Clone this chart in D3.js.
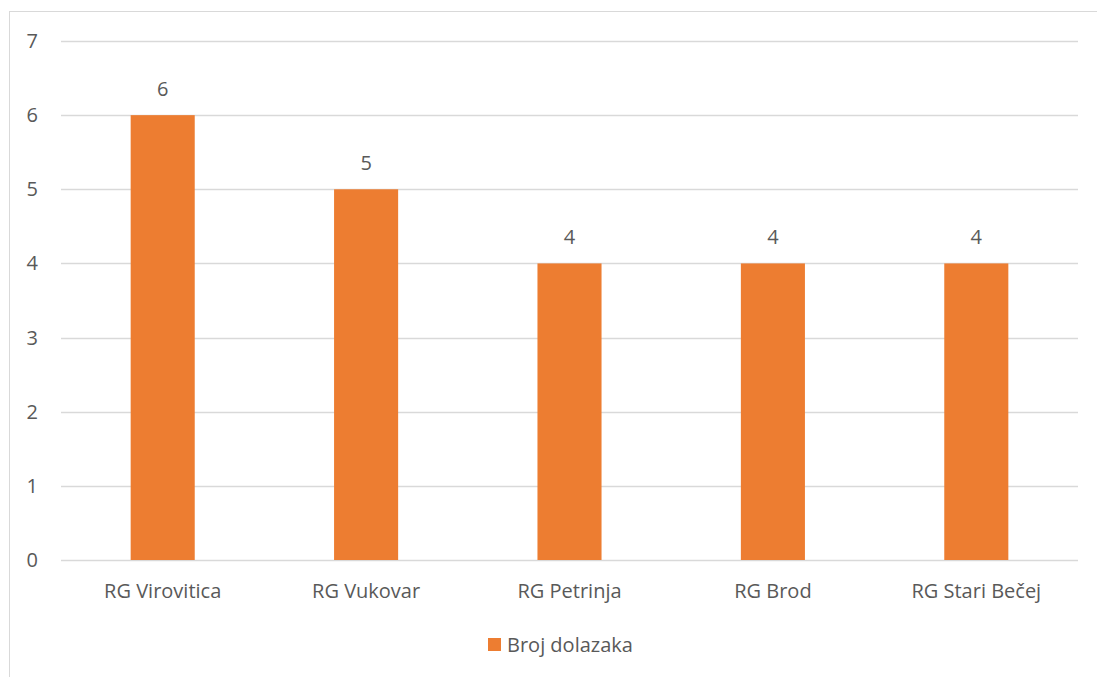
<!DOCTYPE html>
<html><head><meta charset="utf-8">
<script src="https://cdn.jsdelivr.net/npm/d3@7"></script>
<style>body{margin:0;background:#fff;} text{font-family:"Open Sans","Liberation Sans",sans-serif;fill:#595959;}</style>
</head><body>
<svg id="c" width="1097" height="677"></svg>
<script>
const categories = ["RG Virovitica","RG Vukovar","RG Petrinja","RG Brod","RG Stari Bečej"];
const values = [6,5,4,4,4];
const yTicks = [0,1,2,3,4,5,6,7];
const seriesName = "Broj dolazaka";

(function(){
const svg = d3.select("#c");
svg.append("rect").attr("x",9.5).attr("y",11.5).attr("width",1200).attr("height",800)
  .attr("fill","none").attr("stroke","#d9d9d9").attr("stroke-width",1);

const pL=61, pR=1078, pT=41, pB=560;
const x = d3.scaleBand().domain(categories).range([pL,pR]).padding(0);
const y = d3.scaleLinear().domain([0,7]).range([pB,pT]);
const fs = 20;

const g = svg.append("g");
g.selectAll("line.grid").data(yTicks).enter().append("line")
  .attr("x1",pL).attr("x2",pR)
  .attr("y1",d=>Math.round(y(d))+0.5).attr("y2",d=>Math.round(y(d))+0.5)
  .attr("stroke","#d9d9d9").attr("stroke-width",1.3);
g.selectAll("text.yt").data(yTicks).enter().append("text")
  .attr("x",38).attr("y",d=>y(d)).attr("dy","0.35em").attr("text-anchor","end")
  .attr("font-size",fs).text(d=>d);

const bw = x.bandwidth()*0.315;
g.selectAll("rect.bar").data(values).enter().append("rect")
  .attr("x",(d,i)=>x(categories[i])+x.bandwidth()/2-bw/2)
  .attr("width",bw)
  .attr("y",d=>y(d)).attr("height",d=>y(0)-y(d))
  .attr("fill","#ED7D31");
g.selectAll("text.lbl").data(values).enter().append("text")
  .attr("x",(d,i)=>x(categories[i])+x.bandwidth()/2)
  .attr("y",d=>y(d)-19).attr("text-anchor","middle").attr("font-size",fs).text(d=>d);
g.selectAll("text.cat").data(categories).enter().append("text")
  .attr("x",d=>x(d)+x.bandwidth()/2).attr("y",598).attr("text-anchor","middle")
  .attr("font-size",fs).text(d=>d);

const lg = svg.append("g");
lg.append("rect").attr("x",488).attr("y",638).attr("width",13).attr("height",13).attr("fill","#ED7D31");
lg.append("text").attr("x",507).attr("y",652).attr("font-size",fs).text(seriesName);
})();
</script>
</body></html>
